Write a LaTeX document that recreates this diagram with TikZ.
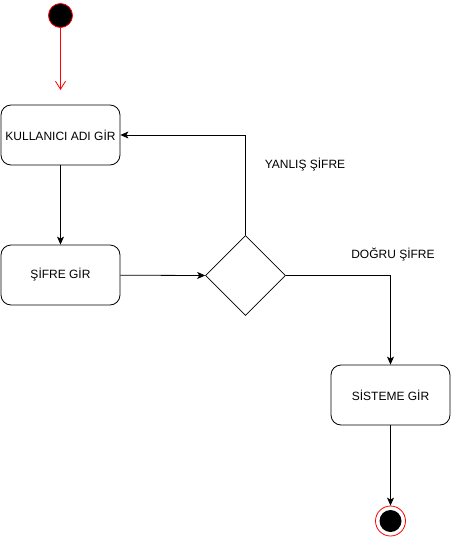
\documentclass[tikz,border=0pt]{standalone}
\usepackage{fontspec}
\setmainfont{Liberation Sans}
\usetikzlibrary{shapes.geometric,arrows.meta}
\begin{document}
\begin{tikzpicture}[x=1pt,y=-1pt,
  act/.style={draw, rounded corners=10pt, minimum width=119pt, minimum height=60pt, inner sep=0pt, line width=0.8pt, font=\fontsize{12}{14}\selectfont},
  dec/.style={draw, diamond, minimum width=80pt, minimum height=80pt, inner sep=0pt, line width=0.6pt},
  flow/.style={draw, line width=0.8pt, -{Stealth[length=8pt,width=7pt,inset=2pt]}},
  lab/.style={font=\fontsize{12}{14}\selectfont, inner sep=0pt}
]
\useasboundingbox (0,0) rectangle (452,538);
\node[circle, draw=red, fill=black, minimum size=24pt, inner sep=0pt, line width=0.8pt] (start) at (60.5,15.5) {};
\node[act] (kad) at (60.5,135) {KULLANICI ADI GİR};
\node[act] (sif) at (60.5,275) {ŞİFRE GİR};
\node[dec] (d) at (245.5,275.5) {};
\node[act] (sis) at (390.5,395) {SİSTEME GİR};
\node[circle, draw=red, fill=white, minimum size=30pt, inner sep=0pt, line width=0.8pt] (end) at (390.5,521) {};
\node[circle, fill=black, minimum size=22pt, inner sep=0pt] (endin) at (390.5,521) {};
\coordinate (startarr) at (60.5,90);
\draw[draw=red, line width=0.8pt, -{Straight Barb[length=8pt,width=10pt]}] (start) -- (startarr);
\draw[flow] (kad) -- (sif);
\draw[flow] (sif) -- (d.west);
\draw[flow] (d.north) |- (kad.east);
\draw[flow] (d.east) -| (sis.north);
\draw[flow] (sis) -- (end);
\node[lab] (yan) at (305,165) {YANLIŞ ŞİFRE};
\node[lab] (dog) at (393,255) {DOĞRU ŞİFRE};
\end{tikzpicture}
\end{document}
